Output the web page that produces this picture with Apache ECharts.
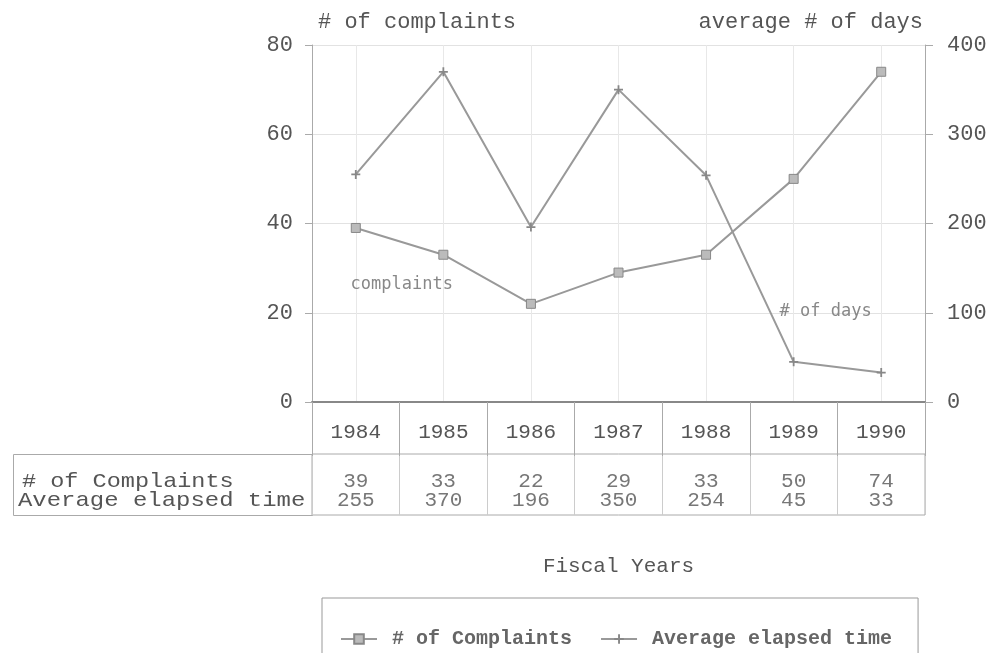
<!DOCTYPE html>
<html>
<head>
<meta charset="utf-8">
<script src="https://cdn.jsdelivr.net/npm/echarts@6/dist/echarts.min.js"></script>
<style>html,body{margin:0;padding:0;background:#fff;}#c{width:994px;height:653px;}</style>
</head>
<body>
<div id="c"></div>
<script>
const years = ['1984','1985','1986','1987','1988','1989','1990'];
const complaints = [39, 33, 22, 29, 33, 50, 74];
const avgDays = [255, 370, 196, 350, 254, 45, 33];
const leftTicks = [0, 20, 40, 60, 80];
const rightTicks = [0, 100, 200, 300, 400];
const rowLabels = ['# of Complaints', 'Average elapsed time'];

const FONT = 'Liberation Mono';
const TXT = '#555';
const plusPath = 'path://M4,0 L6,0 L6,4 L10,4 L10,6 L6,6 L6,10 L4,10 L4,6 L0,6 L0,4 L4,4 Z';

const chart = echarts.init(document.getElementById('c'), null, {renderer: 'canvas'});

const tableRowY = [27, 46];

const option = {
  backgroundColor: '#fff',
  animation: false,
  textStyle: {fontFamily: FONT, color: TXT},
  grid: [
    {left: 312, right: 69, top: 45, bottom: 251, show: false},
    {left: 312, right: 69, top: 454, height: 61, show: true, borderColor: '#aaa', borderWidth: 1, backgroundColor: 'transparent'}
  ],
  legend: {
    left: 322, top: 598,
    padding: [31, 26, 40, 18],
    borderColor: '#999', borderWidth: 1,
    itemWidth: 36, itemHeight: 12, itemGap: 28,
    textStyle: {fontFamily: FONT, fontSize: 20, fontWeight: 'bold', color: '#666', padding: [0, 0, 0, 10]},
    data: ['# of Complaints', 'Average elapsed time']
  },
  xAxis: [
    {
      type: 'category', gridIndex: 0, data: years, boundaryGap: true,
      axisLine: {lineStyle: {color: '#888', width: 2}},
      axisTick: {show: true, length: 54, lineStyle: {color: '#aaa'}},
      axisLabel: {margin: 20, fontFamily: FONT, fontSize: 21, color: TXT},
      splitLine: {show: true, alignWithLabel: true, lineStyle: {color: '#e8e8e8'}},
      name: 'Fiscal Years', nameLocation: 'middle', nameGap: 154,
      nameTextStyle: {fontFamily: FONT, fontSize: 21, color: TXT}
    },
    {
      type: 'category', gridIndex: 1, data: years, boundaryGap: true,
      axisLine: {show: false}, axisTick: {show: false}, axisLabel: {show: false},
      splitLine: {show: true, lineStyle: {color: '#ccc'}}
    }
  ],
  yAxis: [
    {
      type: 'value', gridIndex: 0, min: leftTicks[0], max: leftTicks[leftTicks.length - 1], interval: 20,
      axisLine: {show: true, lineStyle: {color: '#aaa'}},
      axisTick: {show: true, length: 7, lineStyle: {color: '#aaa'}},
      axisLabel: {margin: 19, fontFamily: FONT, fontSize: 22, color: TXT},
      splitLine: {show: true, lineStyle: {color: '#e2e2e2'}},
      name: '# of complaints', nameLocation: 'end', nameGap: 12,
      nameTextStyle: {align: 'left', fontFamily: FONT, fontSize: 22, color: TXT, padding: [0, 0, 0, 6]}
    },
    {
      type: 'value', gridIndex: 0, position: 'right', min: rightTicks[0], max: rightTicks[rightTicks.length - 1], interval: 100,
      axisLine: {show: true, lineStyle: {color: '#aaa'}},
      axisTick: {show: true, length: 8, lineStyle: {color: '#aaa'}},
      axisLabel: {margin: 22, fontFamily: FONT, fontSize: 22, color: TXT},
      splitLine: {show: false},
      name: 'average # of days', nameLocation: 'end', nameGap: 12,
      nameTextStyle: {align: 'right', fontFamily: FONT, fontSize: 22, color: TXT, padding: [0, 2, 0, 0]}
    },
    {
      type: 'value', gridIndex: 1, min: 0, max: 61, inverse: true, show: false
    }
  ],
  series: [
    {
      name: '# of Complaints', type: 'line', xAxisIndex: 0, yAxisIndex: 0,
      data: complaints, symbol: 'rect', symbolSize: 9,
      lineStyle: {color: '#999', width: 2},
      itemStyle: {color: '#bbb', borderColor: '#888', borderWidth: 1},
      markPoint: {
        symbol: 'rect', symbolSize: 1, itemStyle: {color: 'transparent'},
        label: {show: true, formatter: 'complaints', fontFamily: 'DejaVu Sans Mono', fontSize: 17, color: '#888', position: 'inside', offset: [46, 0]},
        data: [{coord: [0, 26.3]}]
      }
    },
    {
      name: 'Average elapsed time', type: 'line', xAxisIndex: 0, yAxisIndex: 1,
      data: avgDays, symbol: plusPath, symbolSize: 9,
      lineStyle: {color: '#999', width: 2},
      itemStyle: {color: '#888'},
      markPoint: {
        symbol: 'rect', symbolSize: 1, itemStyle: {color: 'transparent'},
        label: {show: true, formatter: '# of days', fontFamily: 'DejaVu Sans Mono', fontSize: 17, color: '#888', position: 'inside', offset: [32, 0]},
        data: [{coord: [5, 101]}]
      }
    },
    {
      name: 'tableComplaints', type: 'scatter', xAxisIndex: 1, yAxisIndex: 2,
      symbolSize: 1, itemStyle: {color: 'transparent'}, silent: true,
      data: complaints.map((v, i) => [i, tableRowY[0], v]),
      label: {show: true, position: 'inside', formatter: p => String(p.value[2]), fontFamily: FONT, fontSize: 21, color: TXT}
    },
    {
      name: 'tableDays', type: 'scatter', xAxisIndex: 1, yAxisIndex: 2,
      symbolSize: 1, itemStyle: {color: 'transparent'}, silent: true,
      data: avgDays.map((v, i) => [i, tableRowY[1], v]),
      label: {show: true, position: 'inside', formatter: p => String(p.value[2]), fontFamily: FONT, fontSize: 21, color: TXT}
    }
  ],
  graphic: [
    {type: 'rect', shape: {x: 13.5, y: 454.5, width: 299, height: 61}, style: {fill: 'none', stroke: '#aaa', lineWidth: 1}},
    {type: 'text', x: 22, y: 481, scaleX: 1.12, style: {text: rowLabels[0], font: '21px "Liberation Mono"', fill: TXT, verticalAlign: 'middle'}},
    {type: 'text', x: 18, y: 500, scaleX: 1.14, style: {text: rowLabels[1], font: '21px "Liberation Mono"', fill: TXT, verticalAlign: 'middle'}}
  ]
};
chart.setOption(option);
</script>
</body>
</html>
